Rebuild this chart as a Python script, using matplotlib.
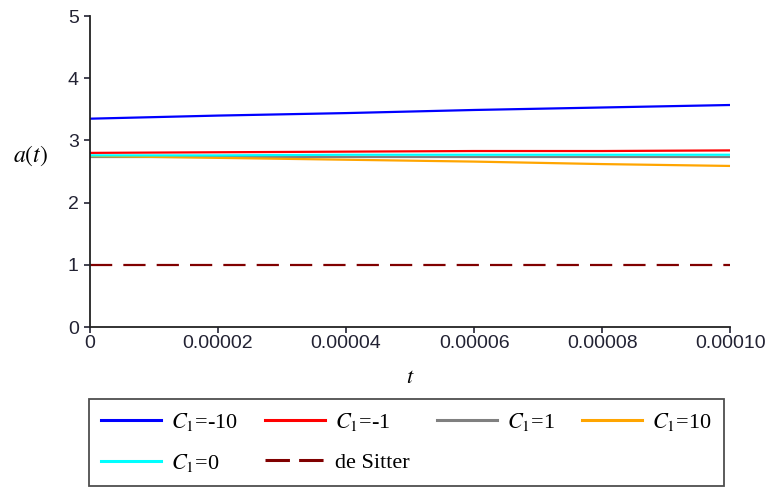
import matplotlib
matplotlib.use('Agg')
import matplotlib.pyplot as plt

plt.rcParams['font.family'] = ['Liberation Serif', 'DejaVu Serif']
plt.rcParams['mathtext.fontset'] = 'stix'

# data (t in units of time, a(t))
t = [0.0, 0.00002, 0.00004, 0.00006, 0.00008, 0.00010]
a_m10 = [3.35, 3.40, 3.44, 3.49, 3.53, 3.57]
a_m1 = [2.80, 2.81, 2.82, 2.83, 2.83, 2.84]
a_p1 = [2.73, 2.73, 2.73, 2.73, 2.73, 2.73]
a_p10 = [2.75, 2.72, 2.69, 2.66, 2.62, 2.59]
a_0 = [2.76, 2.76, 2.77, 2.77, 2.77, 2.77]
a_ds = [1.0, 1.0, 1.0, 1.0, 1.0, 1.0]

xticks = [0, 0.00002, 0.00004, 0.00006, 0.00008, 0.00010]
xticklabels = ['0', '0.00002', '0.00004', '0.00006', '0.00008', '0.00010']
yticks = [0, 1, 2, 3, 4, 5]

fig = plt.figure(figsize=(7.68, 4.87), dpi=100)
ax = fig.add_axes([0.117, 0.3285, 0.834, 0.6385])

lw = 1.6
h_m10, = ax.plot(t, a_m10, color='#0000ff', lw=lw)
h_m1, = ax.plot(t, a_m1, color='#ff0000', lw=lw)
h_p1, = ax.plot(t, a_p1, color='#808080', lw=lw)
h_p10, = ax.plot(t, a_p10, color='#ffa500', lw=lw)
h_0, = ax.plot(t, a_0, color='#00ffff', lw=lw)
h_ds, = ax.plot(t, a_ds, color='#800000', lw=lw, dashes=(10, 5))

ax.set_xlim(0, 0.0001)
ax.set_ylim(0, 5)
ax.set_xticks(xticks)
ax.set_xticklabels(xticklabels)
ax.set_yticks(yticks)
ax.tick_params(labelsize=14, colors='#222233', length=4, width=1.2, pad=2)
ax.tick_params(axis='y', pad=4)
for lab in ax.get_xticklabels() + ax.get_yticklabels():
    lab.set_family(['Liberation Sans', 'DejaVu Sans'])
for s in ['top', 'right']:
    ax.spines[s].set_visible(False)
for s in ['left', 'bottom']:
    ax.spines[s].set_linewidth(1.3)
    ax.spines[s].set_color('#222222')

ax.set_xlabel('$t$', fontsize=16, va='center')
ax.xaxis.set_label_coords(0.5, -0.165)
fig.text(0.04, 0.68, '$a(t)$', fontsize=17, ha='center', va='center')

handles = [h_m10, h_0, h_m1, h_ds, h_p1, h_p10]
labels = ['$C_1$=-10', '$C_1$=0', '$C_1$=-1', 'de Sitter', '$C_1$=1', '$C_1$=10']
leg = fig.legend(handles, labels, ncol=4, loc='upper left',
                 bbox_to_anchor=(0.116, 0.181, 0.827, 0.0), mode='expand',
                 fontsize=16, frameon=True, fancybox=False, edgecolor='#222222',
                 handlelength=2.7, handletextpad=0.45, columnspacing=0.8,
                 borderaxespad=0, labelspacing=0.85, borderpad=0.55)
leg.get_frame().set_linewidth(1.3)
for line in leg.get_lines():
    line.set_linewidth(2.2)
leg.get_lines()[3].set_dashes((8, 3))

plt.savefig('out.png', dpi=100)
plt.close()
